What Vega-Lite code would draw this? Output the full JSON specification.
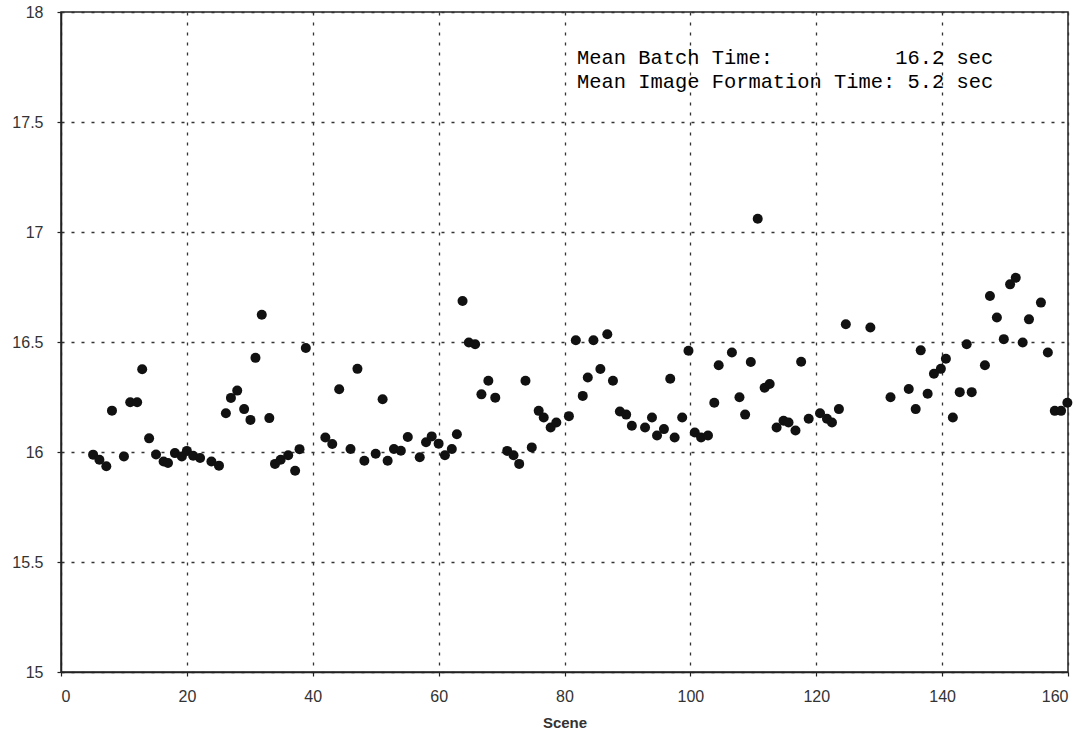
{
  "$schema": "https://vega.github.io/schema/vega-lite/v6.json",
  "width": 1007,
  "height": 660,
  "autosize": "none",
  "padding": {"left": 61, "top": 12, "right": 19, "bottom": 63},
  "background": "white",
  "config": {"view": {"stroke": "#222", "strokeWidth": 1.5}},
  "datasets": {
    "points": [
      {"scene": 5.1, "time": 15.988}, {"scene": 6.1, "time": 15.965}, {"scene": 7.2, "time": 15.935}, {"scene": 8.1, "time": 16.188},
      {"scene": 10.0, "time": 15.98}, {"scene": 11.0, "time": 16.226}, {"scene": 12.1, "time": 16.226}, {"scene": 12.9, "time": 16.376},
      {"scene": 14.0, "time": 16.062}, {"scene": 15.1, "time": 15.989}, {"scene": 16.3, "time": 15.957}, {"scene": 17.0, "time": 15.95},
      {"scene": 18.1, "time": 15.995}, {"scene": 19.2, "time": 15.98}, {"scene": 20.0, "time": 16.005}, {"scene": 21.0, "time": 15.983},
      {"scene": 22.1, "time": 15.973}, {"scene": 23.9, "time": 15.957}, {"scene": 25.1, "time": 15.938}, {"scene": 26.2, "time": 16.176},
      {"scene": 27.0, "time": 16.246}, {"scene": 28.0, "time": 16.279}, {"scene": 29.1, "time": 16.195}, {"scene": 30.1, "time": 16.146},
      {"scene": 30.9, "time": 16.428}, {"scene": 31.9, "time": 16.624}, {"scene": 33.1, "time": 16.154}, {"scene": 34.0, "time": 15.946},
      {"scene": 34.9, "time": 15.965}, {"scene": 36.1, "time": 15.985}, {"scene": 37.2, "time": 15.915}, {"scene": 37.9, "time": 16.013},
      {"scene": 38.9, "time": 16.473}, {"scene": 42.0, "time": 16.066}, {"scene": 43.1, "time": 16.036}, {"scene": 44.2, "time": 16.285},
      {"scene": 46.0, "time": 16.014}, {"scene": 47.1, "time": 16.378}, {"scene": 48.2, "time": 15.96}, {"scene": 50.0, "time": 15.992},
      {"scene": 51.1, "time": 16.24}, {"scene": 51.9, "time": 15.96}, {"scene": 52.9, "time": 16.014}, {"scene": 54.0, "time": 16.006},
      {"scene": 55.1, "time": 16.068}, {"scene": 57.0, "time": 15.976}, {"scene": 58.0, "time": 16.044}, {"scene": 58.9, "time": 16.071},
      {"scene": 60.0, "time": 16.038}, {"scene": 61.0, "time": 15.985}, {"scene": 62.1, "time": 16.014}, {"scene": 62.9, "time": 16.081},
      {"scene": 63.8, "time": 16.686}, {"scene": 64.8, "time": 16.498}, {"scene": 65.8, "time": 16.49}, {"scene": 66.8, "time": 16.262},
      {"scene": 67.9, "time": 16.324}, {"scene": 69.0, "time": 16.247}, {"scene": 70.9, "time": 16.005}, {"scene": 71.9, "time": 15.985},
      {"scene": 72.8, "time": 15.946}, {"scene": 73.8, "time": 16.324}, {"scene": 74.8, "time": 16.021}, {"scene": 75.9, "time": 16.187},
      {"scene": 76.7, "time": 16.157}, {"scene": 77.8, "time": 16.111}, {"scene": 78.7, "time": 16.134}, {"scene": 80.7, "time": 16.163},
      {"scene": 81.8, "time": 16.508}, {"scene": 82.9, "time": 16.255}, {"scene": 83.7, "time": 16.339}, {"scene": 84.6, "time": 16.508},
      {"scene": 85.7, "time": 16.377}, {"scene": 86.8, "time": 16.535}, {"scene": 87.7, "time": 16.324}, {"scene": 88.8, "time": 16.184},
      {"scene": 89.8, "time": 16.17}, {"scene": 90.7, "time": 16.119}, {"scene": 92.8, "time": 16.111}, {"scene": 93.9, "time": 16.157},
      {"scene": 94.7, "time": 16.075}, {"scene": 95.8, "time": 16.104}, {"scene": 96.8, "time": 16.333}, {"scene": 97.5, "time": 16.066},
      {"scene": 98.7, "time": 16.157}, {"scene": 99.7, "time": 16.46}, {"scene": 100.7, "time": 16.089}, {"scene": 101.7, "time": 16.066},
      {"scene": 102.8, "time": 16.075}, {"scene": 103.8, "time": 16.224}, {"scene": 104.5, "time": 16.394}, {"scene": 106.6, "time": 16.452},
      {"scene": 107.8, "time": 16.249}, {"scene": 108.7, "time": 16.17}, {"scene": 109.6, "time": 16.409}, {"scene": 110.7, "time": 17.06},
      {"scene": 111.8, "time": 16.292}, {"scene": 112.6, "time": 16.309}, {"scene": 113.7, "time": 16.111}, {"scene": 114.8, "time": 16.142},
      {"scene": 115.6, "time": 16.134}, {"scene": 116.7, "time": 16.098}, {"scene": 117.6, "time": 16.41}, {"scene": 118.8, "time": 16.151},
      {"scene": 120.6, "time": 16.176}, {"scene": 121.7, "time": 16.151}, {"scene": 122.5, "time": 16.134}, {"scene": 123.6, "time": 16.195},
      {"scene": 124.7, "time": 16.581}, {"scene": 128.6, "time": 16.566}, {"scene": 131.8, "time": 16.249}, {"scene": 134.7, "time": 16.286},
      {"scene": 135.8, "time": 16.195}, {"scene": 136.6, "time": 16.462}, {"scene": 137.7, "time": 16.265}, {"scene": 138.7, "time": 16.356},
      {"scene": 139.8, "time": 16.378}, {"scene": 140.6, "time": 16.424}, {"scene": 141.7, "time": 16.157}, {"scene": 142.8, "time": 16.272},
      {"scene": 143.9, "time": 16.49}, {"scene": 144.7, "time": 16.272}, {"scene": 146.8, "time": 16.394}, {"scene": 147.6, "time": 16.709},
      {"scene": 148.7, "time": 16.611}, {"scene": 149.8, "time": 16.513}, {"scene": 150.8, "time": 16.762}, {"scene": 151.7, "time": 16.792},
      {"scene": 152.8, "time": 16.498}, {"scene": 153.8, "time": 16.603}, {"scene": 155.7, "time": 16.679}, {"scene": 156.8, "time": 16.452},
      {"scene": 157.9, "time": 16.187}, {"scene": 158.9, "time": 16.187}, {"scene": 159.9, "time": 16.224}
    ],
    "notes": [
      {"scene": 82, "time": 17.79, "label": "Mean\u00a0Batch\u00a0Time:\u00a0\u00a0\u00a0\u00a0\u00a0\u00a0\u00a0\u00a0\u00a0\u00a016.2\u00a0sec"},
      {"scene": 82, "time": 17.68, "label": "Mean\u00a0Image\u00a0Formation\u00a0Time:\u00a05.2\u00a0sec"}
    ]
  },
  "layer": [
    {
      "data": {"name": "points"},
      "mark": {"type": "circle", "size": 100, "color": "#111", "opacity": 1},
      "encoding": {
        "x": {
          "field": "scene", "type": "quantitative",
          "scale": {"domain": [0, 160], "nice": false, "zero": false},
          "axis": {
            "values": [0, 20, 40, 60, 80, 100, 120, 140, 160],
            "grid": true, "gridDash": [3, 7], "gridColor": "#333", "gridOpacity": 1, "gridWidth": 1.3,
            "domainColor": "#222", "domainWidth": 1.5, "tickColor": "#222", "tickSize": 4, "tickWidth": 1.2,
            "labelFont": "Liberation Sans", "labelFontSize": 16, "labelColor": "#333", "labelPadding": 12,
            "title": "Scene", "titleFont": "Liberation Sans", "titleFontSize": 15, "titleFontWeight": "bold",
            "titleColor": "#333", "titlePadding": 11
          }
        },
        "y": {
          "field": "time", "type": "quantitative",
          "scale": {"domain": [15, 18], "nice": false, "zero": false},
          "axis": {
            "values": [15, 15.5, 16, 16.5, 17, 17.5, 18],
            "labelExpr": "datum.value + ''",
            "grid": true, "gridDash": [3, 7], "gridColor": "#333", "gridOpacity": 1, "gridWidth": 1.3,
            "domainColor": "#222", "domainWidth": 1.5, "tickColor": "#222", "tickSize": 4, "tickWidth": 1.2,
            "labelFont": "Liberation Sans", "labelFontSize": 16, "labelColor": "#333", "labelPadding": 14,
            "title": null
          }
        }
      }
    },
    {
      "data": {"name": "notes"},
      "mark": {"type": "text", "align": "left", "baseline": "middle", "font": "Liberation Mono", "fontSize": 20.4, "color": "#000"},
      "encoding": {
        "x": {"field": "scene", "type": "quantitative"},
        "y": {"field": "time", "type": "quantitative"},
        "text": {"field": "label", "type": "nominal"}
      }
    }
  ]
}
